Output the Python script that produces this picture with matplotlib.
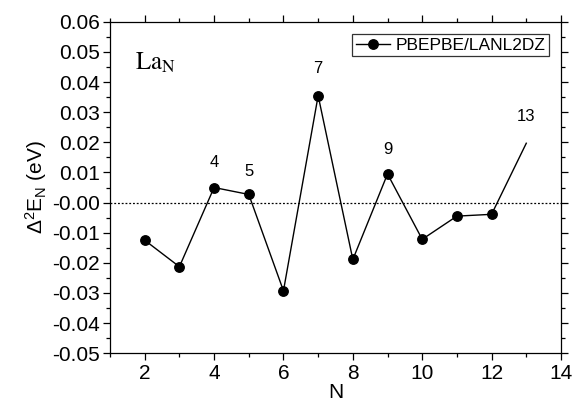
import matplotlib
matplotlib.use("Agg")
import matplotlib.pyplot as plt
from matplotlib.ticker import MultipleLocator, FormatStrFormatter

plt.rcParams['font.family'] = ['Liberation Sans', 'DejaVu Sans']
plt.rcParams['mathtext.fontset'] = 'custom'
plt.rcParams['mathtext.rm'] = 'Liberation Sans'
plt.rcParams['mathtext.it'] = 'Liberation Sans:italic'
plt.rcParams['axes.unicode_minus'] = False

# second-order energy difference of La_N clusters
N = [2, 3, 4, 5, 6, 7, 8, 9, 10, 11, 12]
d2E = [-0.0125, -0.0213, 0.0050, 0.0027, -0.0293, 0.0355, -0.0189,
       0.0095, -0.0122, -0.0045, -0.0039]
# last segment goes on to N=13 without a symbol
N_end = [12, 13]
d2E_end = [-0.0039, 0.0197]

# labelled sizes
lab_N = [4, 5, 7, 9, 13]
lab_txt = ['4', '5', '7', '9', '13']
lab_y = [0.0108, 0.0078, 0.0420, 0.0150, 0.0260]

fig = plt.figure(figsize=(5.73, 4.05), dpi=100)
ax = fig.add_axes([0.192, 0.128, 0.787, 0.818])

ax.axhline(0, color='k', ls=(0, (1.5, 1.5)), lw=0.9)
ax.plot(N, d2E, '-o', color='k', lw=1.0, ms=6.8, label='PBEPBE/LANL2DZ')
ax.plot(N_end, d2E_end, '-', color='k', lw=1.0)

for x, y, t in zip(lab_N, lab_y, lab_txt):
    ax.text(x, y, t, ha='center', va='bottom', fontsize=12)

ax.text(0.055, 0.855, r'$\mathrm{La}_\mathrm{N}$', transform=ax.transAxes,
        fontsize=18, math_fontfamily='stix')

ax.set_xlim(1, 14)
ax.set_ylim(-0.05, 0.06)
ax.xaxis.set_major_locator(MultipleLocator(2))
ax.xaxis.set_minor_locator(MultipleLocator(1))
ax.yaxis.set_major_locator(MultipleLocator(0.01))
ax.yaxis.set_minor_locator(MultipleLocator(0.005))
ax.yaxis.set_major_formatter(FormatStrFormatter('%.2f'))
ax.tick_params(which='both', direction='out', top=True, right=True,
               labeltop=False, labelright=False, labelsize=15)
ax.tick_params(which='major', length=5, width=0.9, pad=2.5)
ax.tick_params(which='minor', length=3, width=0.9)
for s in ax.spines.values():
    s.set_linewidth(0.9)

ax.set_xlabel('N', fontsize=15, labelpad=0)
ax.set_ylabel(r'$\Delta^{2}\mathrm{E}_{\mathrm{N}}$ (eV)', fontsize=15, labelpad=2)

leg = ax.legend(loc='upper right', fontsize=12.5, frameon=True, fancybox=False,
                edgecolor='k', borderpad=0.2, handlelength=2.0,
                borderaxespad=0.7, handletextpad=0.3)
leg.get_frame().set_linewidth(0.9)

fig.savefig('out.png', dpi=100)
